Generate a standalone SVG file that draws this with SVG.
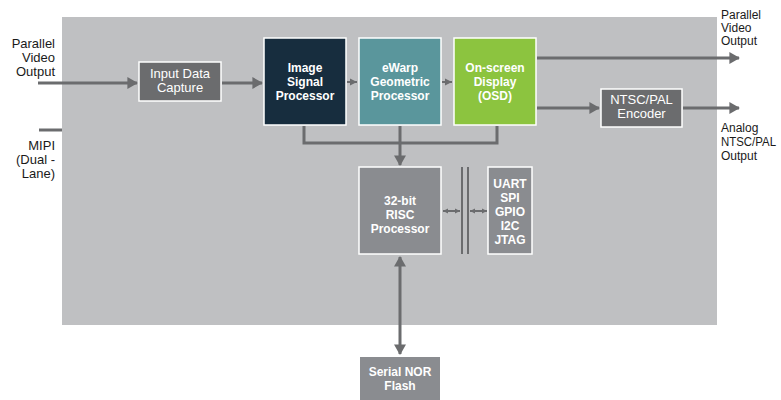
<svg xmlns="http://www.w3.org/2000/svg" width="781" height="400" viewBox="0 0 781 400">
<style>
.lbl{font-family:"Liberation Sans",Arial,sans-serif;font-size:13px;fill:#1a1a1a}
.rl{font-size:12px}
.bt{font-family:"Liberation Sans",Arial,sans-serif;font-size:13px;fill:#ffffff;text-anchor:middle}
.b{font-weight:bold;font-size:12px}
.box{stroke:#ffffff;stroke-width:1.5}
.ln{stroke:#6b6c6e;stroke-width:3;fill:none}
.thin{stroke:#6b6c6e;stroke-width:2;fill:none}
</style>
<defs>
<marker id="ah" markerWidth="4" markerHeight="4" refX="3.2" refY="2" orient="auto" markerUnits="strokeWidth"><path d="M0,0 L3.5,2 L0,4 Z" fill="#6b6c6e"/></marker>
<marker id="as" markerWidth="4" markerHeight="4" refX="3.2" refY="2" orient="auto-start-reverse" markerUnits="strokeWidth"><path d="M0,0 L3.5,2 L0,4 Z" fill="#6b6c6e"/></marker>
<marker id="ss" markerWidth="8" markerHeight="8" refX="7" refY="4" orient="auto-start-reverse" markerUnits="userSpaceOnUse"><path d="M0,0.5 L7,4 L0,7.5 Z" fill="#6b6c6e"/></marker>
<marker id="tt" markerWidth="6" markerHeight="6" refX="5" refY="3" orient="auto-start-reverse" markerUnits="userSpaceOnUse"><path d="M0,0.5 L5,3 L0,5.5 Z" fill="#6b6c6e"/></marker>
</defs>
<rect x="0" y="0" width="781" height="400" fill="#ffffff"/>
<rect id="chip" x="62" y="17" width="655" height="308" fill="#bfc0c2"/>

<g id="connectors">
<line class="ln" x1="38" y1="83" x2="137" y2="83" marker-end="url(#ah)"/>
<line class="ln" x1="39" y1="130" x2="62" y2="130"/>
<line class="ln" x1="222" y1="83" x2="262" y2="83" marker-end="url(#ah)"/>
<line class="thin" x1="347" y1="82" x2="357" y2="82" marker-end="url(#ss)"/>
<line class="thin" x1="442" y1="82" x2="452" y2="82" marker-end="url(#ss)"/>
<polyline class="ln" points="304,126 304,143 497,143 497,126"/>
<line class="ln" x1="400" y1="126" x2="400" y2="165" marker-end="url(#ah)"/>
<line class="ln" x1="537" y1="58" x2="739" y2="58" marker-end="url(#ah)"/>
<line class="ln" x1="537" y1="108" x2="599" y2="108" marker-end="url(#ah)"/>
<line class="ln" x1="683" y1="108" x2="739" y2="108" marker-end="url(#ah)"/>
<line class="ln" x1="400" y1="257" x2="400" y2="354" marker-start="url(#as)" marker-end="url(#as)"/>
<line class="thin" x1="462" y1="167" x2="462" y2="254"/>
<line class="thin" x1="468" y1="167" x2="468" y2="254"/>
<line class="thin" stroke-width="1.5" x1="443" y1="211" x2="460" y2="211" marker-start="url(#tt)" marker-end="url(#tt)"/>
<line class="thin" stroke-width="1.5" x1="470" y1="211" x2="487" y2="211" marker-start="url(#tt)" marker-end="url(#tt)"/>
</g>

<g id="lbl-in">
<text class="lbl" text-anchor="end" x="55" y="48">Parallel</text>
<text class="lbl" text-anchor="end" x="55" y="62">Video</text>
<text class="lbl" text-anchor="end" x="55" y="76">Output</text>
</g>
<g id="lbl-mipi">
<text class="lbl" text-anchor="end" x="55" y="150">MIPI</text>
<text class="lbl" text-anchor="end" x="55" y="164">(Dual -</text>
<text class="lbl" text-anchor="end" x="55" y="178">Lane)</text>
</g>
<g id="lbl-pout">
<text class="lbl rl" x="721" y="19">Parallel</text>
<text class="lbl rl" x="721" y="32">Video</text>
<text class="lbl rl" x="721" y="45">Output</text>
</g>
<g id="lbl-aout">
<text class="lbl rl" x="721" y="132">Analog</text>
<text class="lbl rl" x="721" y="146" textLength="55" lengthAdjust="spacingAndGlyphs">NTSC/PAL</text>
<text class="lbl rl" x="721" y="160">Output</text>
</g>

<g id="idc">
<rect class="box" x="139" y="62" width="82" height="39" fill="#6b6c6e"/>
<text class="bt" x="180" y="78">Input Data</text>
<text class="bt" x="180" y="92">Capture</text>
</g>
<g id="isp">
<rect class="box" x="264" y="38" width="82" height="87" fill="#172d3e"/>
<text class="bt b" x="305" y="72">Image</text>
<text class="bt b" x="305" y="86">Signal</text>
<text class="bt b" x="305" y="100">Processor</text>
</g>
<g id="ewarp">
<rect class="box" x="359" y="38" width="82" height="87" fill="#5a969c"/>
<text class="bt b" x="400" y="72">eWarp</text>
<text class="bt b" x="400" y="86">Geometric</text>
<text class="bt b" x="400" y="100">Processor</text>
</g>
<g id="osd">
<rect class="box" x="454" y="38" width="82" height="87" fill="#8cc43f"/>
<text class="bt b" x="495" y="72">On-screen</text>
<text class="bt b" x="495" y="86">Display</text>
<text class="bt b" x="495" y="100">(OSD)</text>
</g>
<g id="ntsc">
<rect class="box" x="601" y="89" width="81" height="38" fill="#6b6c6e"/>
<text class="bt" x="641.5" y="104">NTSC/PAL</text>
<text class="bt" x="641.5" y="118">Encoder</text>
</g>
<g id="risc">
<rect class="box" x="359" y="167" width="82" height="87" fill="#8a8c90"/>
<text class="bt b" x="400" y="205">32-bit</text>
<text class="bt b" x="400" y="219">RISC</text>
<text class="bt b" x="400" y="233">Processor</text>
</g>
<g id="io">
<rect class="box" x="488" y="167" width="44" height="87" fill="#8a8c90"/>
<text class="bt b" x="510" y="188">UART</text>
<text class="bt b" x="510" y="202">SPI</text>
<text class="bt b" x="510" y="216">GPIO</text>
<text class="bt b" x="510" y="230">I2C</text>
<text class="bt b" x="510" y="244">JTAG</text>
</g>
<g id="flash">
<rect x="360" y="357" width="80" height="43" fill="#8a8c90"/>
<text class="bt b" x="400" y="376">Serial NOR</text>
<text class="bt b" x="400" y="390">Flash</text>
</g>
</svg>
